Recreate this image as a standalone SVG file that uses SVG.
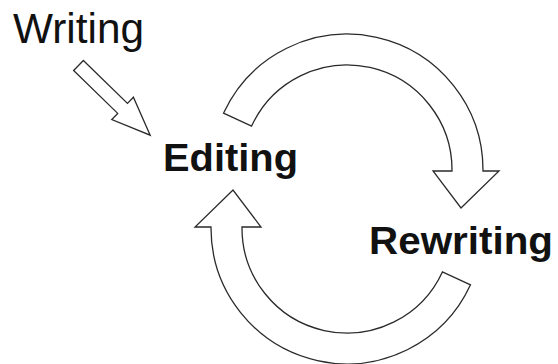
<svg xmlns="http://www.w3.org/2000/svg" width="558" height="364" viewBox="0 0 558 364">
  <style>
    .arrow { fill: #ffffff; stroke: #2a2a2a; stroke-width: 1.3; stroke-linejoin: miter; }
    .plain { font-family: "Liberation Sans", Arial, sans-serif; font-size: 42px; fill: #111111; }
    .stage { font-family: "Liberation Sans", Arial, sans-serif; font-size: 39px; font-weight: bold; fill: #111111; }
  </style>
  <rect width="558" height="364" fill="#ffffff"/>

  <g id="connectors">
    <!-- straight block arrow: Writing into Editing -->
    <polygon class="arrow" points="0,-7 61.5,-7 61.5,-15.5 100,0 61.5,15.5 61.5,7 0,7"
             transform="translate(78.5,65.5) rotate(44.2)"/>
    <!-- curved block arrow: Editing over the top to Rewriting -->
    <path class="arrow" d="M223.5,113.2 A136,136 0 0 1 483,171 L499,171 L461,208 L433,171 L452,171 A105,105 0 0 0 251.6,126.1 Z"/>
    <!-- curved block arrow: Rewriting round the bottom back to Editing -->
    <path class="arrow" d="M470.5,284.8 A136,136 0 0 1 211,227 L195,227 L233,190 L261,227 L242,227 A105,105 0 0 0 442.4,271.9 Z"/>
  </g>

  <g id="writing">
    <text class="plain" x="13" y="43" textLength="131" lengthAdjust="spacingAndGlyphs">Writing</text>
  </g>
  <g id="editing">
    <text class="stage" x="163" y="171" textLength="135" lengthAdjust="spacingAndGlyphs">Editing</text>
  </g>
  <g id="rewriting">
    <text class="stage" x="369" y="254" textLength="184" lengthAdjust="spacingAndGlyphs">Rewriting</text>
  </g>
</svg>
